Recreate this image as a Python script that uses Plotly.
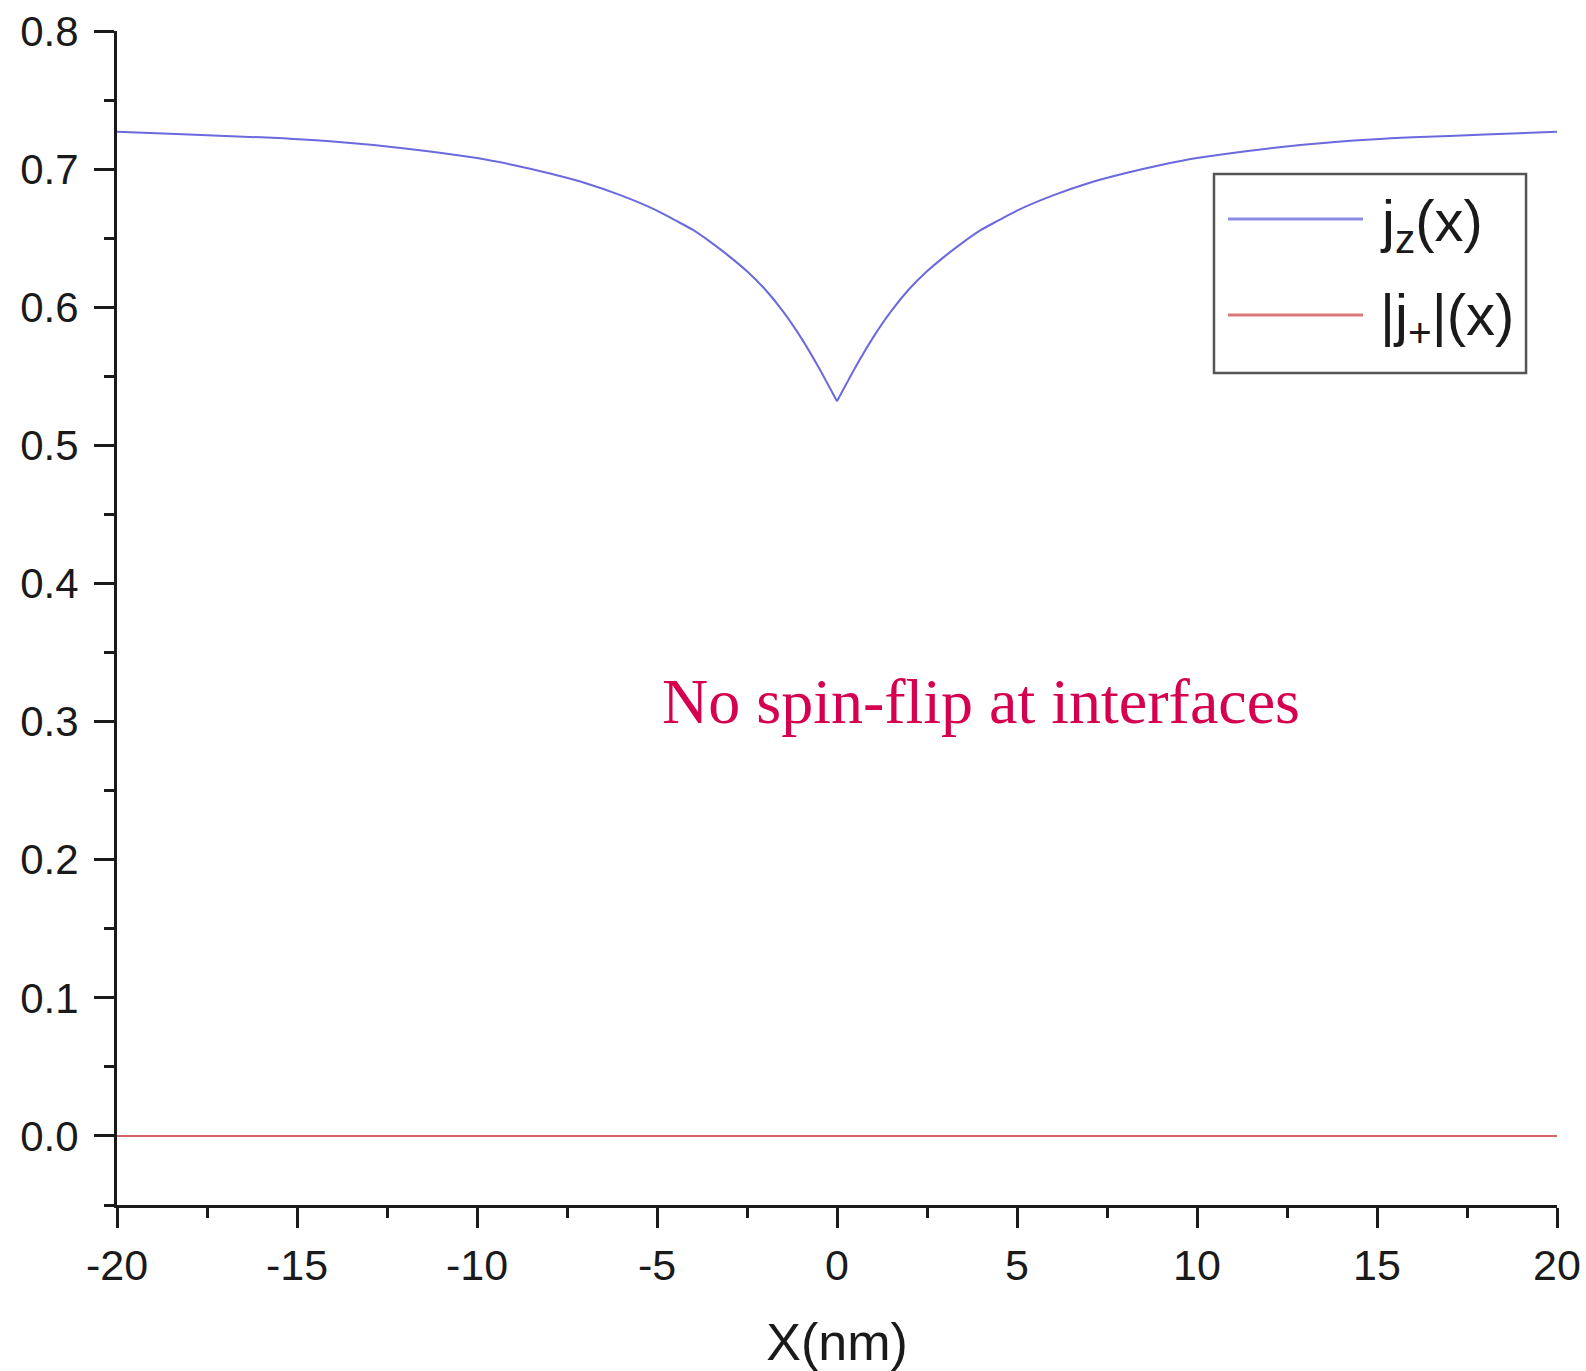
import plotly.graph_objects as go

# Position along the structure (nm)
x_nm = [-20, -18, -16, -14, -12, -10, -9, -8, -7, -6, -5, -4.5, -4, -3.5, -3,
        -2.5, -2, -1.5, -1, -0.5, -0.25, 0,
        0.25, 0.5, 1, 1.5, 2, 2.5, 3, 3.5, 4, 4.5, 5, 6, 7, 8, 9, 10, 12, 14,
        16, 18, 20]

# Longitudinal spin current j_z(x)
j_z = [0.727, 0.725, 0.723, 0.720, 0.715, 0.708, 0.703, 0.697, 0.690, 0.681,
       0.670, 0.663, 0.656, 0.647, 0.637, 0.626, 0.613, 0.597, 0.578, 0.556,
       0.544, 0.532,
       0.544, 0.556, 0.578, 0.597, 0.613, 0.626, 0.637, 0.647, 0.656, 0.663,
       0.670, 0.681, 0.690, 0.697, 0.703, 0.708, 0.715, 0.720, 0.723, 0.725,
       0.727]

# Transverse spin current magnitude |j_+|(x) (identically zero)
j_plus = [0.0 for _ in x_nm]

series_names = ["j<sub>z</sub>(x)", "|j<sub>+</sub>|(x)"]
series_colors = ["#6a6ade", "#d86464"]
legend_colors = ["#8c8ce6", "#dc7878"]

x_ticks = [-20, -15, -10, -5, 0, 5, 10, 15, 20]
y_ticks = [0.0, 0.1, 0.2, 0.3, 0.4, 0.5, 0.6, 0.7, 0.8]

note_text = "No spin-flip at interfaces"

fig = go.Figure()

# j_z has a cusp at the interface x = 0: draw each side as its own smooth branch
i0 = x_nm.index(0)
for xs, ys in [(x_nm[:i0 + 1], j_z[:i0 + 1]), (x_nm[i0:], j_z[i0:])]:
    fig.add_trace(go.Scatter(x=xs, y=ys, mode="lines", name=series_names[0],
                             line=dict(color=series_colors[0], width=2,
                                       shape="spline", smoothing=0.8),
                             showlegend=False))
fig.add_trace(go.Scatter(x=x_nm, y=j_plus, mode="lines", name=series_names[1],
                         line=dict(color=series_colors[1], width=2),
                         showlegend=False))

axis_common = dict(
    showline=True, linecolor="#1a1a1a", linewidth=3,
    ticks="outside", ticklen=20, tickwidth=3, tickcolor="#1a1a1a",
    showgrid=False, zeroline=False, mirror=False, automargin=False,
    ticklabeloverflow="allow",
)

fig.update_xaxes(
    range=[-20, 20], tickvals=x_ticks, ticktext=[str(v) for v in x_ticks],
    minor=dict(dtick=2.5, tick0=-20, ticks="outside", ticklen=10,
               tickwidth=3, tickcolor="#1a1a1a"),
    title=dict(text="X(nm)", standoff=38,
               font=dict(family="Liberation Sans, Arial, sans-serif", size=52,
                         color="#1a1a1a")),
    tickfont=dict(family="Liberation Sans, Arial, sans-serif", size=43,
                  color="#1a1a1a"),
    ticklabelstandoff=0,
    **axis_common,
)
fig.update_yaxes(
    range=[-0.05, 0.8], tickvals=y_ticks,
    ticktext=[f"{v:.1f}" for v in y_ticks],
    minor=dict(dtick=0.05, tick0=0, ticks="outside", ticklen=10,
               tickwidth=3, tickcolor="#1a1a1a"),
    tickfont=dict(family="Liberation Sans, Arial, sans-serif", size=42,
                  color="#1a1a1a"),
    ticklabelstandoff=7,
    **axis_common,
)

# Legend box drawn in paper coordinates
fig.add_shape(type="rect", xref="paper", yref="paper",
              x0=0.7618, x1=0.9785, y0=0.7087, y1=0.8783,
              line=dict(color="#555555", width=2.5), fillcolor="white",
              layer="above")
legend_rows = [0.8398, 0.7580]
text_rows = [0.8350, 0.7545]
for name, color, ly, ty in zip(series_names, legend_colors, legend_rows,
                               text_rows):
    fig.add_shape(type="line", xref="paper", yref="paper",
                  x0=0.7715, x1=0.8653, y0=ly, y1=ly,
                  line=dict(color=color, width=3), layer="above")
    fig.add_annotation(xref="paper", yref="paper", x=0.8757, y=ty,
                       text=name, showarrow=False, xanchor="left",
                       yanchor="middle",
                       font=dict(family="Liberation Sans, Arial, sans-serif",
                                 size=58, color="#1a1a1a"))

fig.add_annotation(x=4.0, y=0.3145, xref="x", yref="y", text=note_text,
                   showarrow=False, xanchor="center", yanchor="middle",
                   font=dict(family="Liberation Serif, Times New Roman, serif",
                             size=64, color="#d5004f"))

fig.update_layout(
    width=1586, height=1371,
    margin=dict(l=117, r=29, t=31, b=166),
    paper_bgcolor="white", plot_bgcolor="white",
    showlegend=False,
)

fig.write_html("out.html")
